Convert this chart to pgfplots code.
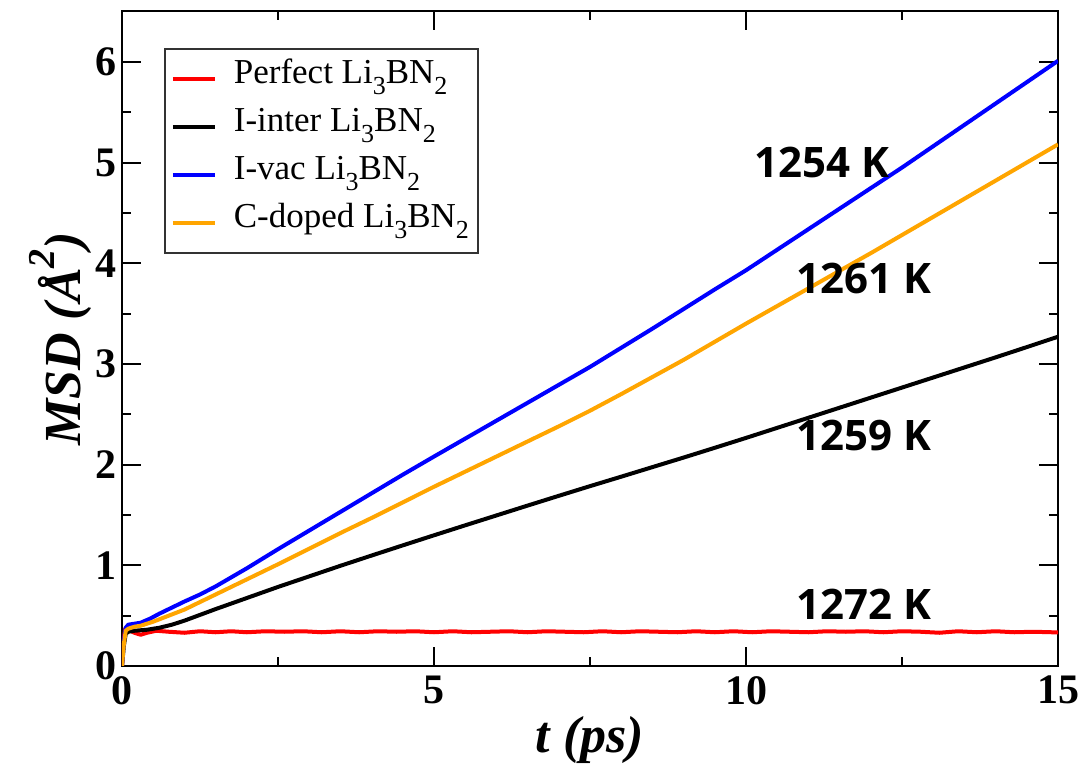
\documentclass[border=0pt]{standalone}
\usepackage{fontspec}
\setmainfont{Liberation Serif}
\newfontfamily\annfont{Open Sans}
\usepackage{pgfplots}
\pgfplotsset{compat=1.18}
\usetikzlibrary{calc}
\newcommand{\sub}[1]{\raisebox{-11pt}{\fontsize{26}{26}\selectfont #1}}

\begin{document}
\begin{tikzpicture}
\begin{axis}[
  scale only axis, width=936pt, height=654.5pt,
  xmin=0, xmax=15, ymin=0, ymax=6.5,
  xtick={0,5,10,15}, ytick={0,1,2,3,4,5,6},
  minor xtick={2.5,7.5,12.5}, minor ytick={0.5,1.5,2.5,3.5,4.5,5.5},
  tick align=inside, major tick length=19pt, minor tick length=9pt,
  axis line style={line width=2pt},
  every tick/.style={black, line width=2pt},
  /pgf/number format/assume math mode=true,
  tick label style={font=\fontsize{42}{42}\selectfont\bfseries},
  yticklabel style={inner xsep=5pt},
  xticklabel style={inner ysep=10pt},
  xlabel={t (ps)},
  ylabel={MSD (Å\raisebox{0.5em}{\fontsize{38}{38}\selectfont 2})},
  label style={font=\fontsize{52}{52}\selectfont\bfseries\itshape},
  xlabel style={at={(axis description cs:0.5,-0.113)}, anchor=center},
  ylabel style={at={(axis description cs:-0.0662,0.5)}, anchor=center},
  legend style={at={(axis description cs:0.045,0.944)}, anchor=north west,
    draw=black!80, line width=1.5pt, font=\fontsize{35}{35}\selectfont,
    inner xsep=6pt, inner ysep=6pt, row sep=0pt, column sep=14pt,
    nodes={inner sep=3pt, text height=26pt, text depth=16pt}},
  legend cell align=left,
  legend image code/.code={\draw[#1, line width=4pt] (0pt,0pt) -- (42pt,0pt);},
  every axis plot/.append style={line width=4pt, line join=round},
]
\addplot[red] coordinates {
(0,0) (0.02,0.22) (0.05,0.37) (0.1,0.36) (0.2,0.33) (0.3,0.31) (0.4,0.33) (0.55,0.35) (0.75,0.34) (1.0,0.33)
(1.25,0.345) (1.5,0.335) (1.75,0.345) (2.0,0.335) (2.3,0.345) (2.6,0.34) (2.9,0.345) (3.2,0.335) (3.5,0.345)
(3.8,0.335) (4.1,0.345) (4.4,0.34) (4.7,0.345) (5.0,0.335) (5.3,0.345) (5.6,0.335) (5.9,0.34) (6.2,0.345)
(6.5,0.335) (6.8,0.345) (7.1,0.34) (7.4,0.335) (7.7,0.345) (8.0,0.335) (8.3,0.345) (8.6,0.34) (8.9,0.335)
(9.2,0.345) (9.5,0.335) (9.8,0.345) (10.1,0.335) (10.4,0.345) (10.7,0.34) (11.0,0.335) (11.3,0.345)
(11.6,0.34) (11.9,0.345) (12.2,0.335) (12.5,0.345) (12.8,0.34) (13.1,0.33) (13.4,0.345) (13.7,0.335)
(14.0,0.345) (14.3,0.335) (14.6,0.34) (14.9,0.335) (15,0.335)};
\addlegendentry{Perfect Li\sub{3}BN\sub{2}}
\addplot[black] coordinates {
(0,0) (0.03,0.2) (0.06,0.32) (0.1,0.34) (0.2,0.35) (0.4,0.36) (0.6,0.38) (0.8,0.41) (1,0.45) (1.5,0.565)
(2,0.675) (2.5,0.785) (3,0.89) (3.5,0.995) (4,1.097) (4.5,1.198) (5,1.298) (5.5,1.397) (6,1.495) (6.5,1.593)
(7,1.69) (7.5,1.786) (8,1.88) (8.5,1.975) (9,2.07) (9.5,2.167) (10,2.265) (10.5,2.365) (11,2.465) (11.5,2.565)
(12,2.665) (12.5,2.765) (13,2.865) (13.5,2.965) (14,3.065) (14.5,3.167) (15,3.27)};
\addlegendentry{I-inter Li\sub{3}BN\sub{2}}
\addplot[blue] coordinates {
(0,0) (0.03,0.25) (0.06,0.38) (0.1,0.41) (0.2,0.42) (0.3,0.43) (0.45,0.47) (0.6,0.52) (0.8,0.58) (1.0,0.64)
(1.25,0.71) (1.5,0.79) (2,0.97) (2.5,1.16) (3,1.345) (3.5,1.53) (4,1.715) (4.5,1.90) (5,2.08) (5.5,2.258)
(6,2.436) (6.5,2.614) (7,2.792) (7.5,2.97) (8,3.16) (8.5,3.35) (9,3.545) (9.5,3.74) (10,3.93) (10.5,4.134)
(11,4.338) (11.5,4.542) (12,4.746) (12.5,4.95) (13,5.162) (13.5,5.374) (14,5.586) (14.5,5.798) (15,6.01)};
\addlegendentry{I-vac Li\sub{3}BN\sub{2}}
\addplot[color={rgb,255:red,255;green,165;blue,0}] coordinates {
(0,0) (0.03,0.22) (0.06,0.35) (0.1,0.37) (0.2,0.39) (0.3,0.40) (0.5,0.44) (0.75,0.50) (1,0.56) (1.5,0.71)
(2,0.86) (2.5,1.01) (3,1.165) (3.5,1.32) (4,1.47) (4.5,1.625) (5,1.78) (5.5,1.93) (6,2.08) (6.5,2.23)
(7,2.38) (7.5,2.535) (8,2.70) (8.5,2.87) (9,3.04) (9.5,3.22) (10,3.40) (10.5,3.575) (11,3.75) (11.5,3.925)
(12,4.10) (12.5,4.28) (13,4.46) (13.5,4.64) (14,4.82) (14.5,5.00) (15,5.18)};
\addlegendentry{C-doped Li\sub{3}BN\sub{2}}
\node[font=\annfont\bfseries\fontsize{42}{42}\selectfont] at (axis cs:11.22,5.0) {1254 K};
\node[font=\annfont\bfseries\fontsize{42}{42}\selectfont] at (axis cs:11.89,3.85) {1261 K};
\node[font=\annfont\bfseries\fontsize{42}{42}\selectfont] at (axis cs:11.89,2.29) {1259 K};
\node[font=\annfont\bfseries\fontsize{42}{42}\selectfont] at (axis cs:11.89,0.61) {1272 K};
\end{axis}
\pgfresetboundingbox
\path ($(current axis.south west)+(-122pt,-99pt)$) rectangle ($(current axis.north east)+(28pt,11.5pt)$);
\end{tikzpicture}
\end{document}
